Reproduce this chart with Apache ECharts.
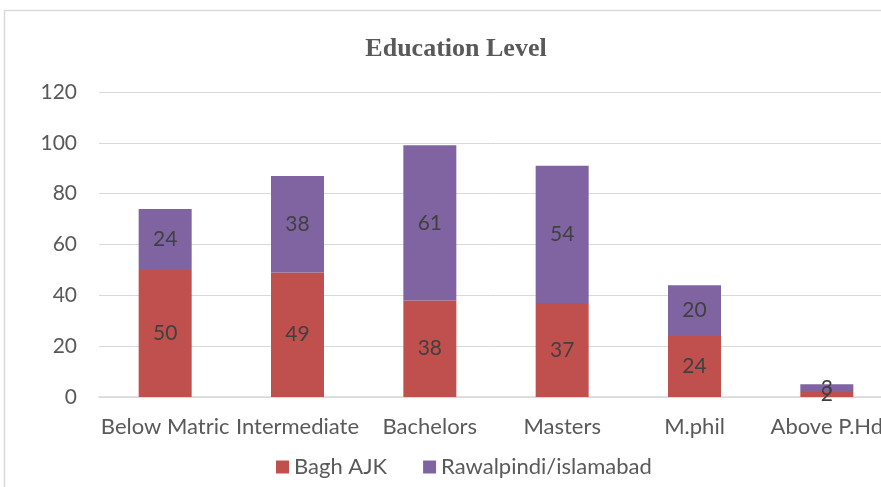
<!DOCTYPE html>
<html>
<head>
<meta charset="utf-8">
<script src="https://cdn.jsdelivr.net/npm/echarts@6/dist/echarts.min.js"></script>
<style>
  html, body { margin: 0; padding: 0; background: #fff; }
  #chart { width: 881px; height: 487px; }
</style>
</head>
<body>
<div id="chart"></div>
<script>
const categories = ['Below Matric', 'Intermediate', 'Bachelors', 'Masters', 'M.phil', 'Above P.Hd'];
const baghAJK = [50, 49, 38, 37, 24, 2];
const rawalpindi = [24, 38, 61, 54, 20, 3];
const yTicks = { min: 0, max: 120, interval: 20 };

const chart = echarts.init(document.getElementById('chart'));

const labelStyle = {
  show: true,
  position: 'inside',
  color: '#404040',
  fontSize: 21,
  fontFamily: 'Lato, sans-serif'
};

const option = {
  backgroundColor: '#fff',
  animation: false,
  graphic: [{
    type: 'rect',
    shape: { x: 4.5, y: 10.5, width: 900, height: 500 },
    style: { fill: 'none', stroke: '#d9d9d9', lineWidth: 1.5 },
    z: -1
  }],
  title: {
    text: 'Education Level',
    left: 451,
    top: 31,
    textAlign: 'center',
    textStyle: {
      fontFamily: '"Liberation Serif", serif',
      fontWeight: 'bold',
      fontSize: 26,
      color: '#595959'
    }
  },
  legend: {
    bottom: 4,
    left: 271,
    itemWidth: 13,
    itemHeight: 13,
    itemGap: 36,
    icon: 'rect',
    textStyle: { fontSize: 22, color: '#595959', fontFamily: 'Lato, sans-serif' },
    data: ['Bagh AJK', 'Rawalpindi/islamabad']
  },
  grid: {
    left: 99,
    right: -12,
    top: 92,
    bottom: 90,
    outerBoundsMode: 'none'
  },
  xAxis: {
    type: 'category',
    data: categories,
    axisLine: { lineStyle: { color: '#d9d9d9', width: 1.5 } },
    axisTick: { show: false },
    axisLabel: {
      color: '#595959',
      fontSize: 22,
      fontFamily: 'Lato, sans-serif',
      margin: 19,
      interval: 0
    }
  },
  yAxis: {
    type: 'value',
    min: yTicks.min,
    max: yTicks.max,
    interval: yTicks.interval,
    axisLine: { show: false },
    axisTick: { show: false },
    splitLine: { lineStyle: { color: '#d9d9d9', width: 1 } },
    axisLabel: {
      color: '#595959',
      fontSize: 21,
      fontFamily: 'Lato, sans-serif',
      margin: 22
    }
  },
  series: [
    {
      name: 'Bagh AJK',
      type: 'bar',
      stack: 'total',
      barWidth: 53,
      data: baghAJK,
      itemStyle: { color: '#C0504D' },
      label: labelStyle
    },
    {
      name: 'Rawalpindi/islamabad',
      type: 'bar',
      stack: 'total',
      barWidth: 53,
      data: rawalpindi,
      itemStyle: { color: '#8064A2' },
      label: labelStyle
    }
  ]
};

chart.setOption(option);
</script>
</body>
</html>
